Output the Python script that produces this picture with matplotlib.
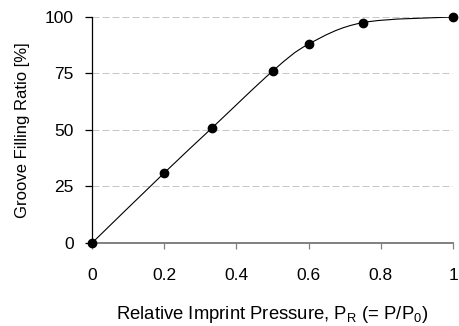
import matplotlib
matplotlib.use("Agg")
import matplotlib.pyplot as plt
from matplotlib.path import Path
from matplotlib.patches import PathPatch
import numpy as np

plt.rcParams['font.family'] = ['Liberation Sans', 'DejaVu Sans']

pressure = [0.0, 0.2, 0.333, 0.5, 0.6, 0.75, 1.0]
filling = [0.0, 31.0, 51.0, 76.0, 88.0, 97.5, 100.0]
xticks = [0, 0.2, 0.4, 0.6, 0.8, 1]
xticklabels = ["0", "0.2", "0.4", "0.6", "0.8", "1"]
yticks = [0, 25, 50, 75, 100]
yticklabels = ["0", "25", "50", "75", "100"]

fig = plt.figure(figsize=(4.6, 3.26), dpi=100)
ax = fig.add_axes([0.2, 0.2546, 0.785, 0.6934])

# smoothed line (Catmull-Rom style bezier, like spreadsheet smoothing)
P = np.column_stack([pressure, filling])
verts = [tuple(P[0])]
codes = [Path.MOVETO]
n = len(P)
for i in range(n - 1):
    p0 = P[max(i - 1, 0)]
    p1 = P[i]
    p2 = P[i + 1]
    p3 = P[min(i + 2, n - 1)]
    c1 = p1 + (p2 - p0) / 6.0
    c2 = p2 - (p3 - p1) / 6.0
    verts += [tuple(c1), tuple(c2), tuple(p2)]
    codes += [Path.CURVE4] * 3
patch = PathPatch(Path(verts, codes), facecolor='none', edgecolor='black', lw=0.8, zorder=3)
ax.add_patch(patch)
ax.plot(pressure, filling, 'o', color='black', ms=6, zorder=4, clip_on=False)

ax.set_xlim(0, 1)
ax.set_ylim(0, 100)
for y in yticks[1:]:
    ax.axhline(y, color='#c8c8c8', lw=0.75, ls=(0, (6.7, 2.9)), zorder=1)

ax.set_xticks(xticks)
ax.set_xticklabels(xticklabels)
ax.set_yticks(yticks)
ax.set_yticklabels(yticklabels)
ax.tick_params(axis='x', direction='out', length=4, width=0.9, color='#808080', labelsize=12.5, pad=14)
ax.tick_params(axis='y', direction='out', length=5, width=0.9, color='black', labelsize=12.5, pad=8)

for s in ['top', 'right']:
    ax.spines[s].set_visible(False)
ax.spines['left'].set_color('black')
ax.spines['left'].set_linewidth(0.9)
ax.spines['bottom'].set_color('#808080')
ax.spines['bottom'].set_linewidth(1.4)

ax.set_ylabel('Groove Filling Ratio [%]', fontsize=12, labelpad=11)
ax.set_xlabel(r'Relative Imprint Pressure, P$_\mathregular{R}$ (= P/P$_\mathregular{0}$)', fontsize=13.3, labelpad=15)

fig.savefig('out.png', dpi=100)
